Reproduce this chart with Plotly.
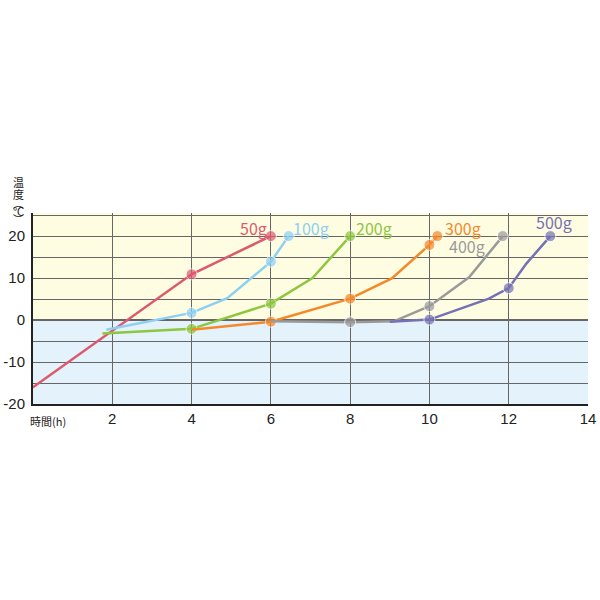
import plotly.graph_objects as go

# ---- data ----
labels = ["50g", "100g", "200g", "300g", "400g", "500g"]
colors = ["#dc5a6e", "#8ecff2", "#8dc63f", "#f5892a", "#9a9a9a", "#7571b3"]

x_50 = [0, 4, 6]
y_50 = [-16, 10.9, 20]
m_50 = [0, 1, 1]

x_100 = [1.85, 4, 4.9, 6, 6.45]
y_100 = [-2.3, 1.7, 5.2, 13.9, 20]
m_100 = [0, 1, 0, 1, 1]

x_200 = [1.75, 4, 6, 7.05, 8]
y_200 = [-3.2, -2.1, 3.9, 10, 20]
m_200 = [0, 1, 1, 0, 1]

x_300 = [4, 6, 8, 9.05, 10, 10.2]
y_300 = [-2.3, -0.4, 5.1, 9.9, 17.9, 20]
m_300 = [0, 1, 1, 0, 1, 1]

x_400 = [6, 8, 9.1, 10, 11, 11.85]
y_400 = [-0.3, -0.5, -0.3, 3.3, 10.2, 20]
m_400 = [0, 1, 0, 1, 0, 1]

x_500 = [9, 10, 11.5, 12, 12.45, 13.05]
y_500 = [-0.4, 0.1, 5.1, 7.6, 13.5, 20]
m_500 = [0, 1, 0, 1, 0, 1]

series_x = [x_50, x_100, x_200, x_300, x_400, x_500]
series_y = [y_50, y_100, y_200, y_300, y_400, y_500]
series_m = [m_50, m_100, m_200, m_300, m_400, m_500]

label_x = [5.55, 7.0, 8.6, 10.85, 10.95, 13.15]
label_y = [22.0, 22.0, 22.0, 22.0, 17.6, 23.3]

x_ticks = [2, 4, 6, 8, 10, 12, 14]
y_ticks = [-20, -10, 0, 10, 20]

y_title = ["温", "度", "︵", "℃", "︶"]
x_title = "時間(h)"

fig = go.Figure()

# background bands
fig.add_shape(type="rect", xref="x", yref="y", x0=0, x1=14, y0=0, y1=25.5,
              fillcolor="#fefde2", line_width=0, layer="below")
fig.add_shape(type="rect", xref="x", yref="y", x0=0, x1=14, y0=-20, y1=0,
              fillcolor="#e4f2fc", line_width=0, layer="below")

for xs, ys, ms, c, name in zip(series_x, series_y, series_m, colors, labels):
    fig.add_trace(go.Scatter(
        x=xs, y=ys, mode="lines+markers", name=name,
        line=dict(color=c, width=2.5),
        marker=dict(color=c, size=[11 if m else 0 for m in ms]),
        cliponaxis=False, showlegend=False,
    ))

for lx, ly, c, name in zip(label_x, label_y, colors, labels):
    fig.add_annotation(x=lx, y=ly, xref="x", yref="y", text=name, showarrow=False,
                       font=dict(color=c, size=16, family="Noto Sans CJK JP"))

# vertical y-axis title, one glyph per annotation (pixel rows)
title_px = [182, 194, 203, 211, 219]
for ch, py in zip(y_title, title_px):
    fig.add_annotation(xref="paper", yref="paper", x=-15 / 555, y=(404 - py) / 191,
                       xanchor="center", yanchor="middle", text=ch, showarrow=False,
                       font=dict(size=11, color="#222", family="Noto Sans CJK JP"))

fig.add_annotation(xref="paper", yref="paper", x=0.027, y=-0.035, xanchor="center", yanchor="top",
                   text=x_title, showarrow=False,
                   font=dict(size=11, color="#222", family="Noto Sans CJK JP"))

fig.update_layout(
    width=600, height=600,
    margin=dict(l=33, r=12, t=213, b=196),
    paper_bgcolor="white", plot_bgcolor="white",
    font=dict(family="Liberation Sans, Arial", color="#222"),
    xaxis=dict(range=[0, 14], tickvals=x_ticks, ticktext=[str(v) for v in x_ticks],
               showgrid=True, gridcolor="#666", gridwidth=1, zeroline=False,
               showline=True, linecolor="#222", linewidth=2, ticks="",
               automargin=False,
               tickfont=dict(size=15, color="#222")),
    yaxis=dict(range=[-20, 25.5], tickvals=y_ticks, ticktext=[str(v) for v in y_ticks],
               showgrid=True, gridcolor="#666", gridwidth=1, zeroline=True,
               zerolinecolor="#666", zerolinewidth=1.5,
               minor=dict(dtick=5, showgrid=True, gridcolor="#666", gridwidth=1, tick0=0),
               showline=True, linecolor="#222", linewidth=2, ticks="",
               automargin=False, ticklabelstandoff=3,
               tickfont=dict(size=15, color="#222")),
)

fig.write_html("out.html", config={"displayModeBar": False},
               post_script="document.body.style.margin='0';")
